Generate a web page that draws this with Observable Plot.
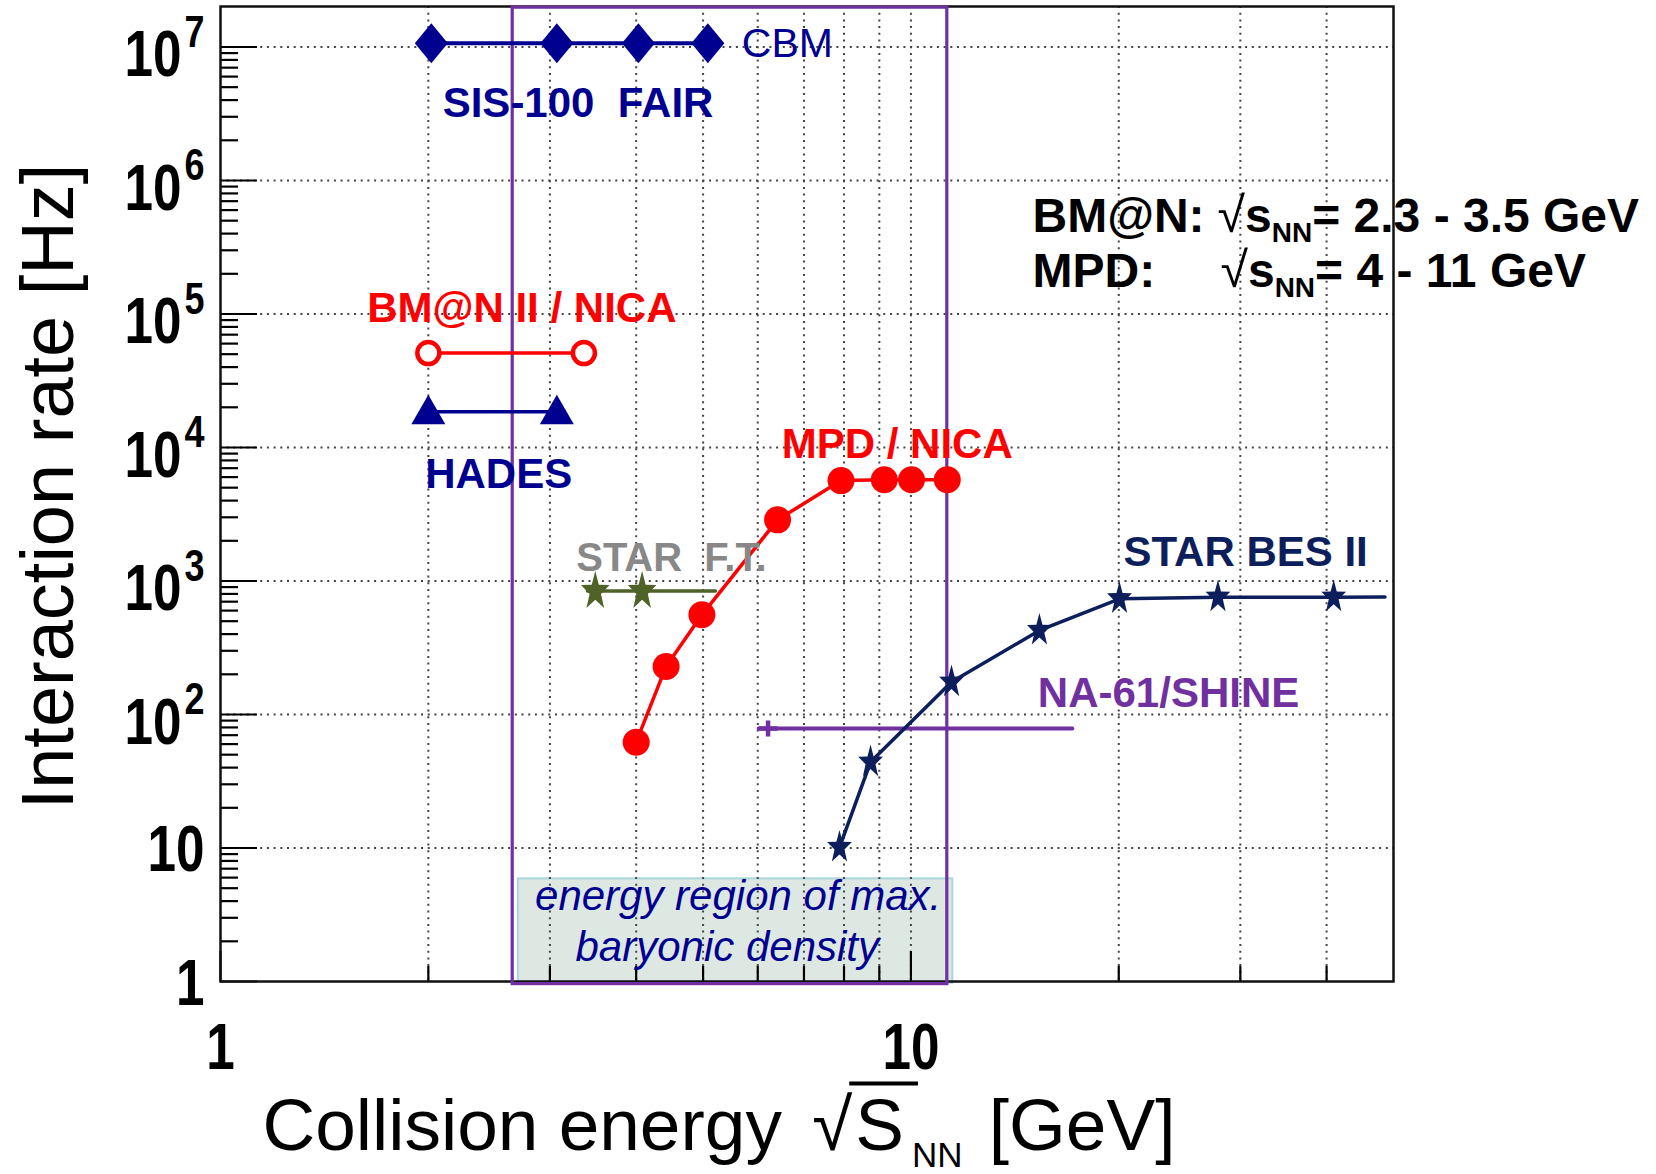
<!DOCTYPE html>
<html><head><meta charset="utf-8">
<script src="https://cdn.jsdelivr.net/npm/d3@7"></script>
<script src="https://cdn.jsdelivr.net/npm/@observablehq/plot@0.6"></script>
<style>
html,body{margin:0;padding:0;background:#fff;}
#chart svg{display:block;}
</style></head><body><div id="chart"></div>
<script>
// ---------------- data ----------------
const cbmX = [2.02, 3.07, 4.03, 5.08];
const cbmY = [1.067e7, 1.067e7, 1.067e7, 1.067e7];
const bmnX = [2.0, 3.36];
const bmnY = [5.1e4, 5.1e4];
const hadesX = [2.0, 3.07];
const hadesY = [1.85e4, 1.85e4];
const mpdX = [4.0, 4.42, 4.98, 6.41, 7.92, 9.15, 10.02, 11.29];
const mpdY = [62, 229, 558, 2870, 5650, 5740, 5740, 5740];
const starFtX = [3.49, 4.08];
const starFtY = [835, 835];
const starFtLineX = [3.40, 5.21];
const starFtLineY = [840, 840];
const starBesX = [7.88, 8.74, 11.45, 15.35, 20.05, 27.84, 40.96];
const starBesY = [10.1, 44, 175, 426, 736, 756, 756];
const starBesLineX = [7.88, 8.74, 11.45, 15.35, 20.05, 27.84, 40.96, 48.6];
const starBesLineY = [10.1, 44, 175, 426, 736, 756, 756, 760];
const na61LineX = [6.02, 17.13];
const na61LineY = [78.6, 78.6];
const na61MarkX = [6.21];
const na61MarkY = [78.6];
const regionX = [2.65, 11.29];          // energy region of max. baryonic density
const regionY = [0.956, 1.97e7];
const noteBoxX = [2.70, 11.5];
const noteBoxY = [0.97, 5.87];

const xTicks = [1, 10];
const xTickLabels = ["1", "10"];
const xMinorTicks = [2, 3, 4, 5, 6, 7, 8, 9, 20, 30, 40];
const yTicks = [1, 10, 1e2, 1e3, 1e4, 1e5, 1e6, 1e7];
const yTickLabels = ["1", "10", "10^2", "10^3", "10^4", "10^5", "10^6", "10^7"];
const yGrid = [10, 1e2, 1e3, 1e4, 1e5, 1e6, 1e7];

const xTitle = "Collision energy √SNN [GeV]";
const yTitle = "Interaction rate [Hz]";

const labelsNavyBold = [
  {text: "SIS-100\u00a0\u00a0FAIR", x: 2.098, y: 2.98e6},
  {text: "HADES", x: 1.979, y: 4931}
];
const labelsNavyReg = [{text: "CBM", x: 5.69, y: 8.39e6}];
const labelsRed = [
  {text: "BM@N II / NICA", x: 1.631, y: 8.68e4},
  {text: "MPD / NICA", x: 6.50, y: 8357}
];
const labelsGrey = [{text: "STAR\u00a0\u00a0F.T.", x: 3.275, y: 1193}];
const labelsStarBes = [{text: "STAR BES II", x: 20.32, y: 1306}];
const labelsNa61 = [{text: "NA-61/SHINE", x: 15.27, y: 113.4}];
const noteLines = [
  {text: "energy region of max.", x: 5.62, y: 3.46},
  {text: "baryonic density", x: 5.42, y: 1.42}
];
const infoLines = [
  {text: "BM@N: √sNN= 2.3 - 3.5 GeV", x: 15.0, y: 4.1e5},
  {text: "MPD: √sNN= 4 - 11 GeV", x: 15.0, y: 1.588e5}
];

// ---------------- helpers ----------------
const pts = (xs, ys) => xs.map((x, i) => ({x, y: ys[i]}));
const yMinor = [];
for (let k = 0; k < 7; k++) for (let m = 2; m <= 9; m++) yMinor.push(m * Math.pow(10, k));

const tallDiamond = {draw(c) { c.moveTo(0, -20); c.lineTo(16.5, 0); c.lineTo(0, 20); c.lineTo(-16.5, 0); c.closePath(); }};
const triUp = {draw(c) { c.moveTo(0, -17); c.lineTo(17, 12.5); c.lineTo(-17, 12.5); c.closePath(); }};
const star = (rx, ry) => ({draw(c) {
  for (let i = 0; i < 10; i++) {
    const a = -Math.PI / 2 + i * Math.PI / 5, r = i % 2 ? 0.4 : 1;
    const px = Math.cos(a) * rx * r, py = Math.sin(a) * ry * r;
    i ? c.lineTo(px, py) : c.moveTo(px, py);
  }
  c.closePath();
}});
const plusSym = {draw(c) { c.moveTo(-9.5, 0); c.lineTo(9.5, 0); c.moveTo(0, -8); c.lineTo(0, 8); }};

const NAVY = "#000090", RED = "#ff0000", GREEN = "#4f6228", BES = "#0c1f5c", PURPLE = "#7030a0";
const SANS = "Liberation Sans, Arial, Helvetica, sans-serif";

const W = 1656, H = 1174, ML = 220, MR = 263, MT = 6, MB = 193;
const PW = W - ML - MR, PH = H - MT - MB;

const lbl = (data, fill, size, weight, extra = {}) => Plot.text(data, {
  x: "x", y: "y", text: "text", fill, fontSize: size, fontWeight: weight,
  fontFamily: SANS, textAnchor: "start", lineAnchor: "bottom", ...extra
});

const chart = Plot.plot({
  width: W, height: H,
  marginLeft: ML, marginRight: MR, marginTop: MT, marginBottom: MB,
  x: {type: "log", domain: [1, 50]},
  y: {type: "log", domain: [1, 2.01e7]},
  style: {background: "white", fontFamily: SANS, color: "black"},
  marks: [
    // text box background
    Plot.rect([0], {x1: noteBoxX[0], x2: noteBoxX[1], y1: noteBoxY[0], y2: noteBoxY[1],
      fill: "#dee8e2", stroke: "#a8d6da", strokeWidth: 2}),
    // grid
    Plot.gridX(xMinorTicks.concat([10]), {stroke: "#444", strokeOpacity: 1, strokeWidth: 2, strokeDasharray: "2,4.7"}),
    Plot.gridY(yGrid, {stroke: "#444", strokeOpacity: 1, strokeWidth: 2, strokeDasharray: "2,4.7"}),
    // inside ticks
    Plot.tickY(yTicks, {y: d => d, insetRight: PW - 37, stroke: "#000", strokeWidth: 2.2}),
    Plot.tickY(yMinor, {y: d => d, insetRight: PW - 18, stroke: "#000", strokeWidth: 2.2}),
    Plot.tickX(xTicks, {x: d => d, insetTop: PH - 30, stroke: "#000", strokeWidth: 2.2}),
    Plot.tickX(xMinorTicks, {x: d => d, insetTop: PH - 15, stroke: "#000", strokeWidth: 2.2}),
    Plot.frame({stroke: "#111", strokeWidth: 2.5}),
    // axes
    Plot.axisX(xTicks, {tickSize: 0, tickPadding: 41, tickFormat: d => xTickLabels[xTicks.indexOf(d)],
      fontSize: 65, fontWeight: "bold", fontFamily: SANS, label: null}),
    Plot.axisY(yTicks, {tickSize: 0, tickPadding: 16, tickFormat: d => yTickLabels[yTicks.indexOf(d)],
      fontSize: 65, fontWeight: "bold", fontFamily: SANS, label: null}),
    // purple energy region
    Plot.rect([0], {x1: regionX[0], x2: regionX[1], y1: regionY[0], y2: regionY[1],
      fill: "none", stroke: PURPLE, strokeWidth: 3.2}),
    // series
    Plot.line(pts(cbmX, cbmY), {x: "x", y: "y", stroke: NAVY, strokeWidth: 4}),
    Plot.dot(pts(cbmX, cbmY), {x: "x", y: "y", symbol: tallDiamond, fill: NAVY, stroke: "none"}),
    Plot.line(pts(bmnX, bmnY), {x: "x", y: "y", stroke: RED, strokeWidth: 3.5}),
    Plot.dot(pts(bmnX, bmnY), {x: "x", y: "y", r: 11, fill: "white", stroke: RED, strokeWidth: 4.5}),
    Plot.line(pts(hadesX, hadesY), {x: "x", y: "y", stroke: NAVY, strokeWidth: 3.5}),
    Plot.dot(pts(hadesX, hadesY), {x: "x", y: "y", symbol: triUp, fill: NAVY, stroke: "none"}),
    Plot.line(pts(starFtLineX, starFtLineY), {x: "x", y: "y", stroke: GREEN, strokeWidth: 3.5}),
    Plot.dot(pts(starFtX, starFtY), {x: "x", y: "y", symbol: star(15, 20.5), fill: GREEN, stroke: "none"}),
    Plot.line(pts(mpdX, mpdY), {x: "x", y: "y", stroke: RED, strokeWidth: 3.5}),
    Plot.dot(pts(mpdX, mpdY), {x: "x", y: "y", r: 13.5, fill: RED, stroke: "none"}),
    Plot.line(pts(na61LineX, na61LineY), {x: "x", y: "y", stroke: PURPLE, strokeWidth: 4}),
    Plot.dot(pts(na61MarkX, na61MarkY), {x: "x", y: "y", symbol: plusSym, fill: "none", stroke: PURPLE, strokeWidth: 4.5}),
    Plot.line(pts(starBesLineX, starBesLineY), {x: "x", y: "y", stroke: BES, strokeWidth: 3.5}),
    Plot.dot(pts(starBesX, starBesY), {x: "x", y: "y", symbol: star(13, 17.5), fill: BES, stroke: "none"}),
    // labels
    lbl(labelsNavyReg, NAVY, 41, "normal"),
    lbl(labelsNavyBold, NAVY, 42, "bold"),
    lbl(labelsRed, RED, 42, "bold"),
    lbl(labelsGrey, "#888888", 40, "bold"),
    lbl(labelsStarBes, BES, 42, "bold"),
    lbl(labelsNa61, PURPLE, 42, "bold"),
    lbl(noteLines, NAVY, 42, "normal", {textAnchor: "middle", fontStyle: "italic"}),
    lbl(infoLines, "#000", 48, "bold"),
    // axis titles
    Plot.text([yTitle], {frameAnchor: "left", rotate: -90, textAnchor: "middle", lineAnchor: "bottom",
      dx: -148, dy: -7.5, fontSize: 74, fontFamily: SANS, fill: "#000"}),
    Plot.text([xTitle], {frameAnchor: "bottom-left", textAnchor: "start", lineAnchor: "bottom",
      dx: 42, dy: 168, fontSize: 73, fontFamily: SANS, fill: "#000"})
  ]
});

// ---------- rich text post-processing (condensed tick digits, superscripts / subscripts) ----------
const root = d3.select(chart);
const digitW = 28.5, supW = 20;   // condensed advance widths of the ROOT-style tick digits
const condensed = (sel, s, w) => sel.append("tspan").attr("textLength", s.length * w)
  .attr("lengthAdjust", "spacingAndGlyphs").text(s);
root.selectAll('g[aria-label="y-axis tick label"] text').each(function () {
  const t = this.textContent, sel = d3.select(this);
  sel.text(null);
  const parts = t.split("^");
  if (parts.length === 2) {
    condensed(sel, parts[0], digitW).attr("dy", 8.5);
    condensed(sel, parts[1], supW).attr("dy", -29.3).attr("dx", 3).attr("font-size", 44);
  } else {
    condensed(sel, t, digitW).attr("dy", 2.5);
  }
});
root.selectAll('g[aria-label="x-axis tick label"] text').each(function () {
  const t = this.textContent, sel = d3.select(this);
  sel.text(null);
  condensed(sel, t, digitW);
});

root.selectAll("text").each(function () {
  const t = this.textContent, sel = d3.select(this);
  if (t === infoLines[0].text || t === infoLines[1].text) {
    const first = t === infoLines[0].text;
    const m = t.match(/^(.*?:)\s*√s(NN)(=.*)$/);
    sel.text(null);
    sel.append("tspan").text(m[1]);
    const sq = sel.append("tspan").attr("font-weight", "normal").attr("font-size", 50).text("√");
    if (first) sq.attr("dx", 13); else sq.attr("x", 188);
    sel.append("tspan").text("s");
    sel.append("tspan").attr("font-size", 28).attr("dy", 10).text(m[2]);
    sel.append("tspan").attr("dy", -10).text(m[3].replace("= ", "=\u00a0"));
  } else if (t === xTitle) {
    sel.text(null);
    sel.append("tspan").text("Collision energy ");
    sel.append("tspan").attr("dx", 10).text("√");
    sel.append("tspan").attr("dx", 3).text("S");
    sel.append("tspan").attr("dx", 8).attr("dy", 17).attr("font-size", 35).text("NN");
    sel.append("tspan").attr("dy", -17).attr("dx", 6).text("\u00a0[GeV]");
  }
});

document.getElementById("chart").appendChild(chart);

// overline over S in the x title
root.selectAll("text").each(function () {
  if (this.textContent.startsWith("Collision energy")) {
    const a = this.getExtentOfChar(17), b = this.getExtentOfChar(18);
    d3.select(this.parentNode).append("line")
      .attr("transform", this.getAttribute("transform"))
      .attr("x1", a.x + a.width - 3).attr("x2", b.x + b.width + 14)
      .attr("y1", -66).attr("y2", -66)
      .attr("stroke", "#000").attr("stroke-width", 4);
  }
});
</script>
</body></html>
